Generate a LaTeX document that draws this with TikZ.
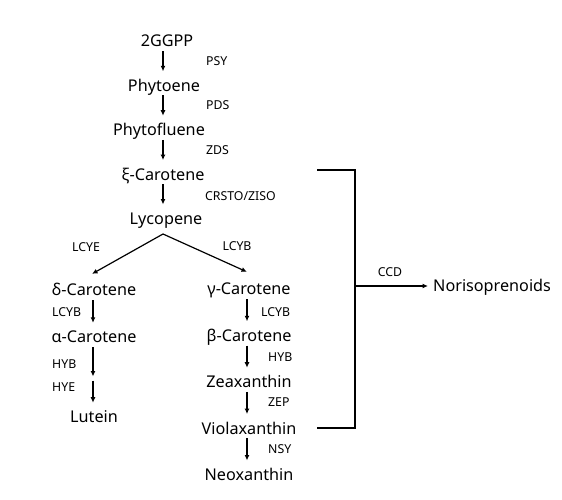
\documentclass[tikz,border=0pt]{standalone}
\usepackage{fontspec}
\setmainfont{Noto Sans}
\usetikzlibrary{arrows.meta,positioning}

\begin{document}
\begin{tikzpicture}[x=1pt, y=-1pt,
  cmp/.style={font=\fontsize{16.2}{19}\selectfont, inner sep=0pt, text height=11.8pt, text depth=0pt},
  enz/.style={font=\fontsize{12.3}{14}\selectfont, inner sep=0pt, text height=8.8pt, text depth=0pt},
  arr/.style={-{Latex[length=5.5pt,width=5pt]}, line width=1.2pt, shorten <=4pt, shorten >=8pt},
  fork/.style={-{Latex[length=5.5pt,width=5pt]}, line width=1.2pt},
  brk/.style={line width=1.3pt}
]
  \useasboundingbox (0,0) rectangle (562,500);

  % main chain
  \node[cmp] (ggpp) at (167,41) {2GGPP};
  \node[cmp, below=32.2pt of ggpp, xshift=-3pt] (phy) {Phytoene};
  \node[cmp, below=32.2pt of phy, xshift=-5pt] (pfl) {Phytofluene};
  \node[cmp, below=32.2pt of pfl, xshift=4pt] (xic) {ξ-Carotene};
  \node[cmp, below=32.2pt of xic, xshift=3pt] (lyc) {Lycopene};

  % left branch
  \node[cmp] (dlc) at (94,290) {δ-Carotene};
  \node[cmp, below=34.7pt of dlc] (alc) {α-Carotene};
  \node[cmp, below=67.7pt of alc] (lut) {Lutein};

  % right branch
  \node[cmp] (glc) at (249,289) {γ-Carotene};
  \node[cmp, below=34.2pt of glc] (blc) {β-Carotene};
  \node[cmp, below=34.2pt of blc] (zea) {Zeaxanthin};
  \node[cmp, below=34.2pt of zea] (vio) {Violaxanthin};
  \node[cmp, below=34.2pt of vio] (neo) {Neoxanthin};

  \node[cmp, anchor=west] (nor) at (433,286) {Norisoprenoids};

  % arrow columns and helper points
  \coordinate (ax) at (163,0);
  \coordinate (lx) at (93,0);
  \coordinate (rx) at (247,0);
  \coordinate (lmid) at (93,378.5);
  \coordinate (split) at (163,234);
  \coordinate (t0) at (317,170);
  \coordinate (t1) at (355,170);
  \coordinate (b0) at (317,428);
  \coordinate (b1) at (355,428);

  \draw[arr] (ggpp.south -| ax) -- (phy.north -| ax);
  \draw[arr] (phy.south -| ax) -- (pfl.north -| ax);
  \draw[arr] (pfl.south -| ax) -- (xic.north -| ax);
  \draw[arr] (xic.south -| ax) -- (lyc.north -| ax);

  \draw[fork] (split) -- ([xshift=-2pt, yshift=10pt]dlc.north);
  \draw[fork] (split) -- ([xshift=-2pt, yshift=11pt]glc.north);

  \draw[arr] (dlc.south -| lx) -- (alc.north -| lx);
  \draw[arr, shorten >=2pt] (alc.south -| lx) -- (lmid);
  \draw[arr, shorten <=2pt] (lmid) -- (lut.north -| lx);

  \draw[arr] (glc.south -| rx) -- (blc.north -| rx);
  \draw[arr] (blc.south -| rx) -- (zea.north -| rx);
  \draw[arr] (zea.south -| rx) -- (vio.north -| rx);
  \draw[arr] (vio.south -| rx) -- (neo.north -| rx);

  % cleavage bracket
  \draw[brk] (t0) -- (t1) -- (b1) -- (b0);
  \draw[fork, shorten >=5pt] (t1 |- nor.west) -- (nor.west);

  % enzymes
  \node[enz, anchor=west] (psy) at (206,61) {PSY};
  \node[enz, anchor=west] (pds) at (206,105) {PDS};
  \node[enz, anchor=west] (zds) at (206,150) {ZDS};
  \node[enz, anchor=west] (crs) at (205,196) {CRSTO/ZISO};
  \node[enz] (lcye) at (86,247) {LCYE};
  \node[enz] (lcyb) at (237,246) {LCYB};
  \node[enz, anchor=west] (lcybl) at (52,312) {LCYB};
  \node[enz, anchor=west] (hybl) at (52,364) {HYB};
  \node[enz, anchor=west] (hye) at (52,387) {HYE};
  \node[enz, anchor=west] (lcybr) at (261,312) {LCYB};
  \node[enz, anchor=west] (hybr) at (268,357) {HYB};
  \node[enz, anchor=west] (zep) at (268,402) {ZEP};
  \node[enz, anchor=west] (nsy) at (268,449) {NSY};
  \node[enz] (ccd) at (390,272) {CCD};
\end{tikzpicture}
\end{document}
